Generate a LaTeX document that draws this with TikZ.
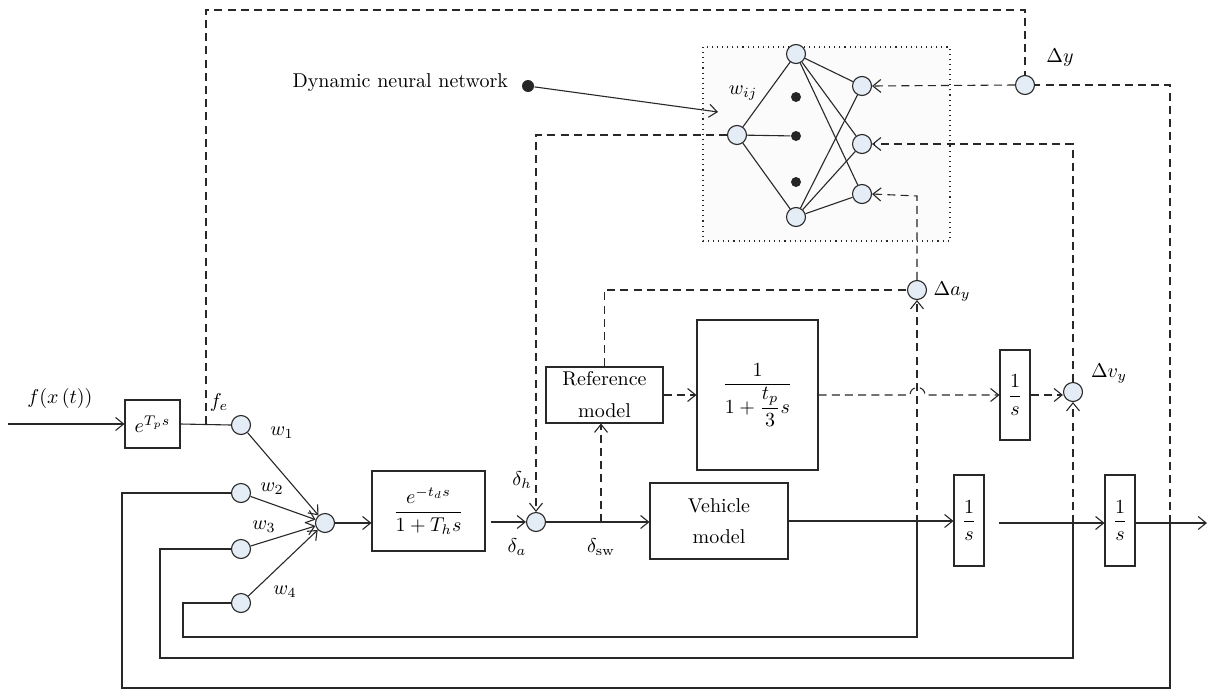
\documentclass[tikz,border=0pt]{standalone}
\usepackage{amsmath}
\usetikzlibrary{arrows.meta,calc}
\definecolor{circfill}{RGB}{228,236,246}
\definecolor{linecol}{RGB}{40,40,40}
\definecolor{nnback}{RGB}{251,251,251}
\tikzset{
  >={Straight Barb[length=4pt,width=6.5pt]},
  every path/.style={line width=0.55pt},
  lk/.style={draw=linecol},
  dsh/.style={draw=linecol,dash pattern=on 4pt off 2.6pt},
  sumc/.style={circle,draw=linecol,fill=circfill,minimum size=9.5pt,inner sep=0pt},
  blk/.style={draw=linecol,inner sep=0pt,align=center},
  lbl/.style={inner sep=0pt},
  dotn/.style={circle,fill=black!85,minimum size=5pt,inner sep=0pt},
}
\begin{document}
\begin{tikzpicture}[x=0.5pt,y=-0.5pt]
\useasboundingbox (0,0) rectangle (1210,691);

% neural network frame
\draw[dotted,fill=nnback,draw=linecol] (703,47) rectangle (950,241);

% blocks
\node[blk,minimum width=27.5pt,minimum height=24pt] (tp) at (152.5,424) {$e^{T_p s}$};
\node[blk,minimum width=56.5pt,minimum height=40pt] (delay) at (428.5,511) {$\dfrac{e^{-t_d s}}{1+T_h s}$};
\node[blk,minimum width=58.5pt,minimum height=28pt,font=\fontsize{10}{16}\selectfont] (ref) at (604.5,395) {Reference\\model};
\node[blk,minimum width=60.5pt,minimum height=75pt] (big) at (757.5,395) {$\dfrac{1}{1+\dfrac{t_p}{3}s}$};
\node[blk,minimum width=69pt,minimum height=38pt,font=\fontsize{10}{15.5}\selectfont] (veh) at (719,521) {Vehicle\\model};
\node[blk,minimum width=15pt,minimum height=45pt] (s1) at (1015,395) {$\dfrac{1}{s}$};
\node[blk,minimum width=15pt,minimum height=45.5pt] (s2) at (969,520.5) {$\dfrac{1}{s}$};
\node[blk,minimum width=15pt,minimum height=45.5pt] (s3) at (1120,520.5) {$\dfrac{1}{s}$};

% weighting and summing circles
\node[sumc] (w1) at (241,425) {};
\node[sumc] (w2) at (241,493) {};
\node[sumc] (w3) at (241,549) {};
\node[sumc] (w4) at (241,603) {};
\node[sumc] (sum1) at (325,523) {};
\node[sumc] (dsum) at (536,522) {};
\node[sumc] (dy) at (1025,85) {};
\node[sumc] (day) at (917,290) {};
\node[sumc] (dvy) at (1073,392) {};

% network neurons
\node[sumc] (nin) at (737,135) {};
\node[sumc] (htop) at (796,54) {};
\node[sumc] (hbot) at (796,217) {};
\node[dotn] (d1) at (796,97) {};
\node[dotn] (d2) at (796,136) {};
\node[dotn] (d3) at (796,182) {};
\node[sumc] (o1) at (862,86) {};
\node[sumc] (o2) at (862,144) {};
\node[sumc] (o3) at (862,194) {};

% labels
\node[lbl] (lf) at (60,398) {$f(x\,(t))$};
\node[lbl] (lfe) at (219,402) {$f_e$};
\node[lbl] (lw1) at (282,433) {$w_1$};
\node[lbl] (lw2) at (272,489) {$w_2$};
\node[lbl] (lw3) at (264,527) {$w_3$};
\node[lbl] (lw4) at (285,592) {$w_4$};
\node[lbl] (ldh) at (522,480) {$\delta_h$};
\node[lbl] (lda) at (517,547) {$\delta_a$};
\node[lbl] (ldsw) at (601,547) {$\delta_{\mathrm{sw}}$};
\node[lbl] (lwij) at (743,93) {$w_{ij}$};
\node[lbl] (ldy) at (1060,58) {$\Delta y$};
\node[lbl] (lday) at (952,292) {$\Delta a_y$};
\node[lbl] (ldvy) at (1109,374) {$\Delta v_y$};
\node[lbl,anchor=west] (ldnn) at (292,83) {Dynamic neural network};
\node[circle,fill=black!85,minimum size=6pt,inner sep=0pt] (pin) at (528,86) {};
\coordinate (pintip) at (718,112);
\draw[lk,->] (pin) -- (pintip);

% network links
\draw[lk] (nin) -- (htop);
\draw[lk] (nin) -- (hbot);
\draw[lk] (nin) -- (d2);
\foreach \o in {o1,o2,o3} {
  \draw[lk] (htop) -- (\o);
  \draw[lk] (hbot) -- (\o);
}

% forward path
\coordinate (in) at (8,424);
\coordinate (fe) at (206,424);
\draw[lk,->] (in) -- (tp.west);
\draw[lk] (tp.east) -- (w1.west);
\draw[dsh] (fe) -- (206,10) -- (1025,10) -- (dy.north);
\foreach \w in {w1,w2,w3,w4} \draw[lk,->] (\w) -- (sum1);
\draw[lk,->] (sum1) -- (sum1 -| delay.west);
\draw[lk,->] ($(delay.east |- dsum)+(5,0)$) -- (dsum);
\draw[lk,->] (dsum) -- (dsum -| veh.west);
\coordinate (sw) at (601,522);
\draw[dsh,->] (sw) -- (sw |- ref.south);
\draw[dsh,->] (ref.east) -- (big.west);
\coordinate (hopa) at (910,395);
\coordinate (hopb) at (925,395);
\draw[dsh,->] (big.east) -- (hopa) .. controls (910,385) and (925,385) .. (hopb) -- (s1.west);
\draw[dsh,->] (s1.east) -- (s1.east -| dvy.west);
\draw[dsh] (ref.north) -- (ref.north |- day) -- (day.west);
\draw[dsh,->] (day.north) -- (917,196) -- (o3.east);
\draw[dsh,->] (dvy.north) -- (1073,144) -- (o2.east);
\draw[dsh,->] (dy.west) -- (o1.east);
\draw[dsh,->] (nin.west) -- (nin -| dsum) -- (dsum.north);

% output path
\coordinate (gap) at (999,523);
\coordinate (out) at (1207,523);
\draw[lk,->] (veh.east) -- (veh.east -| s2.west);
\draw[lk,->] (gap) -- (gap -| s3.west);
\draw[lk,->] (s3.east |- out) -- (out);

% feedback loops
\draw[lk] (w4.west) -- (183,603) -- (183,637) -- (917,637) -- (917,523);
\draw[dsh,->] (917,523) -- (day.south);
\draw[lk] (w3.west) -- (160,549) -- (160,658) -- (1073,658) -- (1073,523);
\draw[dsh,->] (1073,523) -- (dvy.south);
\draw[lk] (w2.west) -- (122,493) -- (122,688) -- (1170,688) -- (1170,523);
\draw[dsh] (1170,523) -- (1170,85) -- (dy.east);
\end{tikzpicture}
\end{document}
